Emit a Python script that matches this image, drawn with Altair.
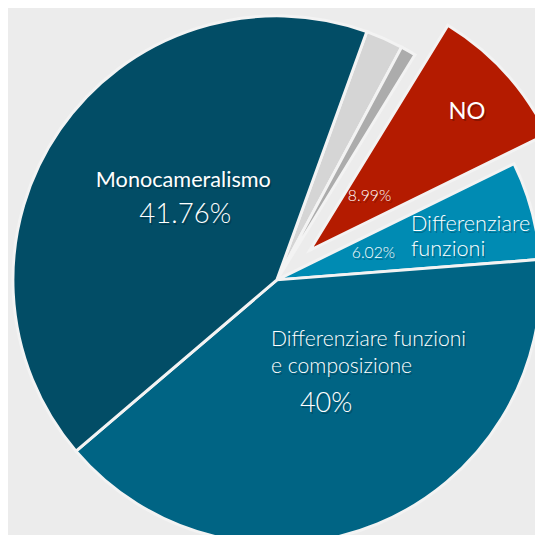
import math
import altair as alt
import pandas as pd

# ---- data ----
categories = ["Altro A", "Altro B", "NO", "Differenziare funzioni",
              "Differenziare funzioni e composizione", "Monocameralismo"]
values = [2.30, 0.93, 8.99, 6.02, 40.00, 41.76]
colors = ["#d5d5d5", "#acacac", "#b41b00", "#008bb3", "#006484", "#024d66"]
exploded = ["NO"]

label_texts = ["Monocameralismo", "41.76%", "NO", "8.99%", "Differenziare",
               "funzioni", "6.02%", "Differenziare funzioni", "e composizione", "40%"]

# ---- layout (not data) ----
W, H = 535, 527
CX, CY = 273, 272
R = 268
start = math.radians(19.9)
explode_px = 45
bis = math.radians(48)
ex_dx, ex_dy = explode_px * math.sin(bis), -explode_px * math.cos(bis)

label_x = [178, 180, 466, 367, 409, 409, 371, 267, 267, 323]
label_y = [171, 206, 102, 187, 215, 241, 245, 333, 361, 398]
label_size = [22, 28, 24, 16, 22, 22, 16, 21.5, 21.5, 27.5]
label_weight = [400, 300, 400, 300, 300, 300, 300, 300, 300, 300]
label_align = ["center", "center", "center", "center", "left",
               "left", "center", "left", "left", "center"]

df = pd.DataFrame({"cat": categories, "value": values,
                   "ord": list(range(len(categories)))})

theta = alt.Theta("value:Q", stack=True,
                  scale=alt.Scale(range=[start, start + 2 * math.pi]))
color = alt.Color("cat:N", scale=alt.Scale(domain=categories, range=colors), legend=None)
order = alt.Order("ord:Q")

is_ex = alt.FieldOneOfPredicate(field="cat", oneOf=exploded)

base = alt.Chart(df).mark_arc(radius=R, stroke="#f3f3f3", strokeWidth=3,
                              x=CX, y=CY).encode(
    theta=theta, color=color, order=order,
    opacity=alt.condition(is_ex, alt.value(0), alt.value(1)),
)
ex = alt.Chart(df).mark_arc(radius=R, stroke="#f3f3f3", strokeWidth=3,
                            x=CX, y=CY, xOffset=ex_dx, yOffset=ex_dy).encode(
    theta=theta, color=color, order=order,
    opacity=alt.condition(is_ex, alt.value(1), alt.value(0)),
)

layers = [base, ex]
lab = pd.DataFrame({"t": label_texts, "x": label_x, "y": label_y})
for i in range(len(label_texts)):
    d = lab.iloc[[i]]
    for shadow in (True, False):
        m = alt.Chart(d).mark_text(
            font="Lato", fontSize=label_size[i], fontWeight=label_weight[i],
            align=label_align[i], baseline="middle",
            color="#000000" if shadow else "#ffffff",
            opacity=0.22 if shadow else 1,
            dx=1.5 if shadow else 0, dy=2 if shadow else 0,
        ).encode(
            x=alt.X("x:Q", scale=None, axis=None),
            y=alt.Y("y:Q", scale=None, axis=None),
            text="t:N",
        )
        layers.append(m)

chart = alt.layer(*layers).properties(
    width=W, height=H, padding=0, autosize=alt.AutoSizeParams(type="none"),
    background="#ececec",
).configure_view(stroke=None)

chart.save("out.html", embed_options={"renderer": "svg", "actions": False})
